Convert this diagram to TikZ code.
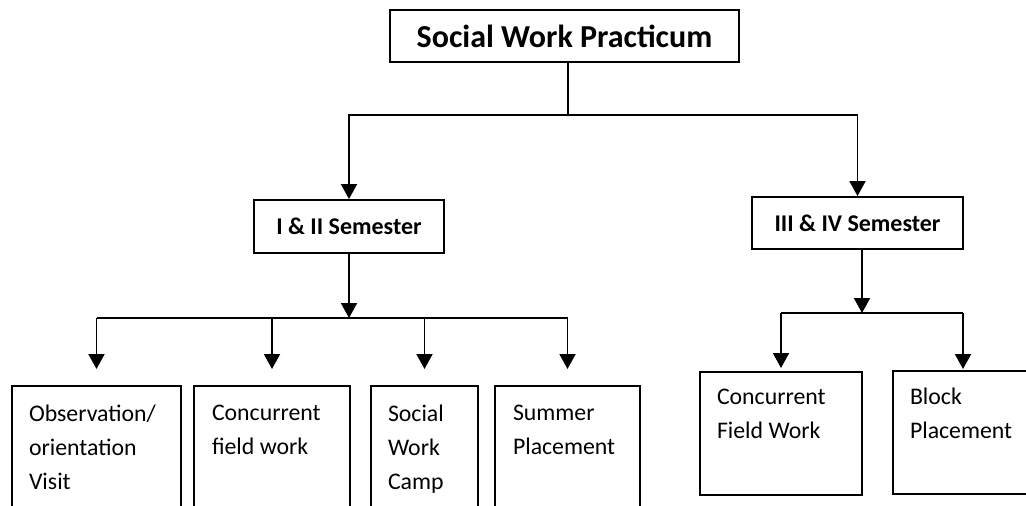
\documentclass[tikz,border=0pt]{standalone}
\usepackage{fontspec}
\setmainfont{Carlito}
\usetikzlibrary{arrows.meta}

\begin{document}
\begin{tikzpicture}[x=1pt,y=-1pt,line width=1.9pt]
\tikzstyle{every node}+=[inner sep=0pt]
\tikzstyle{headbox}=[draw,font=\bfseries\fontsize{32}{38}\selectfont]
\tikzstyle{sembox}=[draw,font=\bfseries\fontsize{24}{29}\selectfont]
\tikzstyle{leafbox}=[draw,anchor=north]
\tikzstyle{leaftext}=[anchor=north west,align=left,font=\fontsize{23.8}{34}\selectfont,
  execute at begin node=\rule{0pt}{20pt}]
\tikzstyle{arr}=[-{Triangle[width=16pt,length=15pt]}]
\useasboundingbox (0,0) rectangle (1026,506);
\clip (0,0) rectangle (1026,506);
\node [headbox,minimum width=349pt,minimum height=52pt] (practicum) at (564.5,36) {Social Work Practicum};
\node [sembox,minimum width=190pt,minimum height=53pt] (semone) at (349,226.5) {I \& II Semester};
\node [sembox,minimum width=211pt,minimum height=52pt] (semtwo) at (857.5,223) {III \& IV Semester};
\node [leafbox,minimum width=169pt,minimum height=140pt] (observe) at (96.5,385) {};
\node [leafbox,minimum width=156pt,minimum height=140pt] (fieldwork) at (272,385) {};
\node [leafbox,minimum width=107pt,minimum height=140pt] (camp) at (424.5,385) {};
\node [leafbox,minimum width=145pt,minimum height=140pt] (summer) at (567.5,385) {};
\node [leafbox,minimum width=162pt,minimum height=123pt] (cfield) at (781,371) {};
\node [leafbox,minimum width=140pt,minimum height=123pt] (block) at (963,370) {};
\node [leaftext] (observetxt) at ([shift={(17,19)}]observe.north west) {Observation/\\orientation\\Visit};
\node [leaftext] (fieldworktxt) at ([shift={(18,19)}]fieldwork.north west) {Concurrent\\field work};
\node [leaftext] (camptxt) at ([shift={(17,19)}]camp.north west) {Social\\Work\\Camp};
\node [leaftext] (summertxt) at ([shift={(18,19)}]summer.north west) {Summer\\Placement};
\node [leaftext] (cfieldtxt) at ([shift={(17,17)}]cfield.north west) {Concurrent\\Field Work};
\node [leaftext] (blocktxt) at ([shift={(17,17)}]block.north west) {Block\\Placement};
% top level
\coordinate (hub) at (568,115);
\draw (hub |- practicum.south) -- (hub);
\draw [arr] (hub) -| (semone);
\draw [arr] (hub) -| (semtwo);
% first year
\coordinate (busone) at (349,318);
\draw [arr] (semone) -- (busone);
\draw (busone -| observe) -- (busone -| summer);
\draw [arr,shorten >=16pt] (busone -| observe) -- (observe);
\draw [arr,shorten >=16pt] (busone -| fieldwork) -- (fieldwork);
\draw [arr,shorten >=16pt] (busone -| camp) -- (camp);
\draw [arr,shorten >=16pt] (busone -| summer) -- (summer);
% second year
\coordinate (bustwo) at (862,313);
\draw [arr] (semtwo.south -| bustwo) -- (bustwo);
\draw (bustwo -| cfield) -- (bustwo -| block);
\draw [arr,shorten >=3pt] (bustwo -| cfield) -- (cfield);
\draw [arr,shorten >=1pt] (bustwo -| block) -- (block);
\end{tikzpicture}
\end{document}
